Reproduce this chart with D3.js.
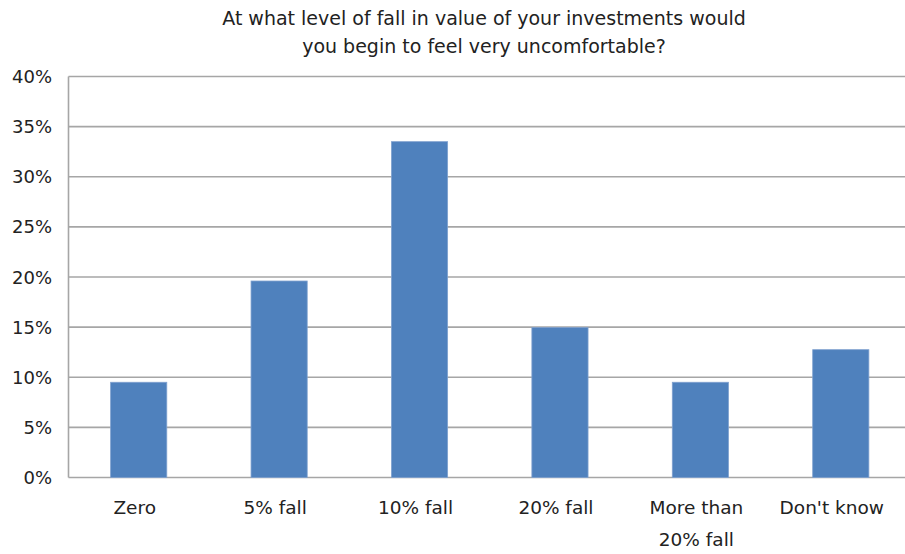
<!DOCTYPE html>
<html>
<head>
<meta charset="utf-8">
<script src="https://cdn.jsdelivr.net/npm/d3@7"></script>
<style>
  body { margin: 0; background: #fff; }
  text { font-family: 'DejaVu Sans', sans-serif; fill: #222; }
</style>
</head>
<body>
<svg width="905" height="554"></svg>
<script>
var categories = ["Zero", "5% fall", "10% fall", "20% fall", "More than|20% fall", "Don't know"];
var values = [9.5, 19.6, 33.5, 14.95, 9.5, 12.75];
var yTicks = [0, 5, 10, 15, 20, 25, 30, 35, 40];
var titleLines = ["At what level of fall in value of your investments would", "you begin to feel very uncomfortable?"];

var svg = d3.select("svg");
var plotL = 68.5, plotR = 911, plotT = 76.5, plotB = 477.5;

var x = d3.scaleBand().domain(categories).range([plotL, plotR]).paddingInner(0.6).paddingOuter(0.3);
var y = d3.scaleLinear().domain([0, 40]).range([plotB, plotT]);

// gridlines
svg.append("g").selectAll("line").data(yTicks).enter().append("line")
  .attr("x1", plotL).attr("x2", plotR)
  .attr("y1", d => y(d)).attr("y2", d => y(d))
  .attr("stroke", "#a6a6a6").attr("stroke-width", 1.6);

// y axis line
svg.append("line").attr("x1", plotL).attr("x2", plotL).attr("y1", plotT).attr("y2", plotB)
  .attr("stroke", "#a6a6a6").attr("stroke-width", 1.6);

svg.append("g").selectAll("text").data(yTicks).enter().append("text")
  .attr("x", 52).attr("y", d => y(d) + 6.5)
  .attr("text-anchor", "end").attr("font-size", 18)
  .text(d => d + "%");

// bars
svg.append("g").selectAll("rect").data(values).enter().append("rect")
  .attr("x", (d, i) => x(categories[i]))
  .attr("width", x.bandwidth())
  .attr("y", d => y(d))
  .attr("height", d => y(0) - y(d))
  .attr("fill", "#4f81bd")
  .attr("stroke", "#7fa1cf").attr("stroke-width", 0.8);

// x labels (sit a little left of bar centre, like the original)
var xl = svg.append("g").selectAll("text").data(categories).enter().append("text")
  .attr("text-anchor", "middle").attr("font-size", 18.5)
  .attr("y", 514);
xl.each(function(d, i) {
  var parts = d.split("|");
  var t = d3.select(this);
  var cx = x(d) + x.bandwidth() / 2 - (i == categories.length - 1 ? 9 : 4);
  parts.forEach((p, j) => {
    t.append("tspan").attr("x", cx).attr("dy", j ? 32 : 0).text(p);
  });
});

// title
svg.append("g").selectAll("text").data(titleLines).enter().append("text")
  .attr("x", 484).attr("y", (d, i) => 25 + i * 28)
  .attr("text-anchor", "middle").attr("font-size", 19)
  .text(d => d);
</script>
</body>
</html>
